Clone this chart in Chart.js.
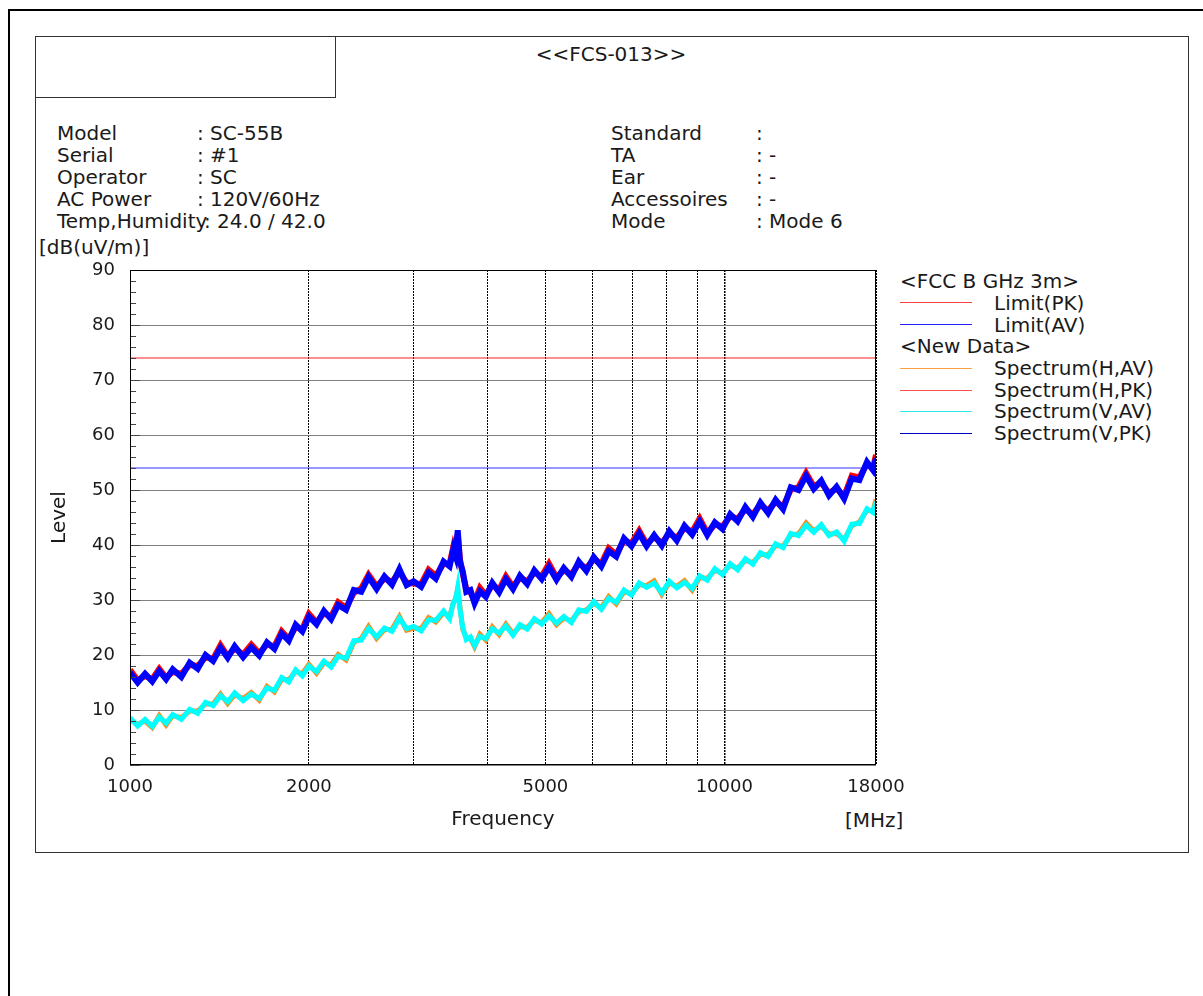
<!DOCTYPE html>
<html>
<head>
<meta charset="utf-8">
<script src="https://cdn.jsdelivr.net/npm/chart.js@4.4.1/dist/chart.umd.min.js"></script>
<style>
body { margin: 0; background: #fff; font-family: "DejaVu Sans", sans-serif; color: #1a1a1a; }
#page { position: relative; width: 1203px; height: 996px; overflow: hidden; }
.box { position: absolute; box-sizing: border-box; }
.t { position: absolute; font-size: 20px; line-height: 22px; white-space: nowrap; }
.lg { position: absolute; left: 900px; width: 72px; height: 1px; }
canvas { position: absolute; left: 0; top: 0; }
</style>
</head>
<body>
<div id="page">
  <div class="box" style="left:8px;top:9px;width:1300px;height:1100px;border-left:2px solid #000;border-top:2px solid #000;"></div>
  <div class="box" style="left:35px;top:36px;width:1154px;height:817px;border:1px solid #333;"></div>
  <div class="box" style="left:35px;top:36px;width:301px;height:62px;border:1px solid #333;"></div>

  <div class="t" style="left:0;width:1222px;text-align:center;top:43px;">&lt;&lt;FCS-013&gt;&gt;</div>

  <div class="t" style="left:57px;top:122px;">Model</div>
  <div class="t" style="left:57px;top:144px;">Serial</div>
  <div class="t" style="left:57px;top:166px;">Operator</div>
  <div class="t" style="left:57px;top:188px;">AC Power</div>
  <div class="t" style="left:57px;top:210px;">Temp,Humidity</div>
  <div class="t" style="left:197px;top:122px;">: SC-55B</div>
  <div class="t" style="left:197px;top:144px;">: #1</div>
  <div class="t" style="left:197px;top:166px;">: SC</div>
  <div class="t" style="left:197px;top:188px;">: 120V/60Hz</div>
  <div class="t" style="left:204px;top:210px;">: 24.0 / 42.0</div>

  <div class="t" style="left:611px;top:122px;">Standard</div>
  <div class="t" style="left:611px;top:144px;">TA</div>
  <div class="t" style="left:611px;top:166px;">Ear</div>
  <div class="t" style="left:611px;top:188px;">Accessoires</div>
  <div class="t" style="left:611px;top:210px;">Mode</div>
  <div class="t" style="left:756px;top:122px;">:</div>
  <div class="t" style="left:756px;top:144px;">: -</div>
  <div class="t" style="left:756px;top:166px;">: -</div>
  <div class="t" style="left:756px;top:188px;">: -</div>
  <div class="t" style="left:756px;top:210px;">: Mode 6</div>

  <div class="t" style="left:39px;top:236px;">[dB(uV/m)]</div>
  <div class="t" style="left:845px;top:809px;">[MHz]</div>

  <div class="t" style="left:900px;top:270px;">&lt;FCC B GHz 3m&gt;</div>
  <div class="lg" style="top:302px;background:#ff4040;"></div>
  <div class="t" style="left:994px;top:292px;">Limit(PK)</div>
  <div class="lg" style="top:324px;background:#2020ff;"></div>
  <div class="t" style="left:994px;top:314px;">Limit(AV)</div>
  <div class="t" style="left:900px;top:335px;">&lt;New Data&gt;</div>
  <div class="lg" style="top:368px;background:#ffa040;"></div>
  <div class="t" style="left:994px;top:357px;">Spectrum(H,AV)</div>
  <div class="lg" style="top:390px;background:#ff5050;"></div>
  <div class="t" style="left:994px;top:379px;">Spectrum(H,PK)</div>
  <div class="lg" style="top:411px;background:#30e8e8;"></div>
  <div class="t" style="left:994px;top:400px;">Spectrum(V,AV)</div>
  <div class="lg" style="top:433px;background:#0000c0;"></div>
  <div class="t" style="left:994px;top:422px;">Spectrum(V,PK)</div>

  <canvas id="emcChart" width="1203" height="996"></canvas>
</div>
<script>
// sweep frequencies [MHz]
const freqMHz = [1000, 1030, 1060, 1090, 1120, 1150, 1180, 1220, 1260, 1300,
    1340, 1380, 1420, 1460, 1500, 1550, 1600, 1650, 1700, 1750,
    1800, 1850, 1900, 1950, 2000, 2060, 2120, 2180, 2240, 2310,
    2380, 2450, 2520, 2600, 2680, 2760, 2840, 2920, 3000, 3090,
    3180, 3270, 3370, 3450, 3500, 3530, 3560, 3590, 3630, 3680,
    3740, 3800, 3880, 3970, 4070, 4180, 4290, 4410, 4530, 4660,
    4790, 4930, 5070, 5220, 5370, 5530, 5690, 5860, 6030, 6210,
    6390, 6580, 6780, 6980, 7190, 7400, 7620, 7850, 8080, 8320,
    8570, 8830, 9090, 9360, 9640, 9930, 10230, 10530, 10850, 11170,
    11500, 11850, 12200, 12560, 12940, 13330, 13730, 14140, 14560, 15000,
    15450, 15910, 16390, 16880, 17380, 17800, 18000];

// Spectrum(H,AV)
const hAv = [8.2, 7.4, 8.0, 6.8, 9.0, 7.3, 9.0, 8.6, 9.8, 9.8,
    11.1, 11.1, 12.9, 11.2, 12.8, 12.1, 13.2, 11.8, 14.3, 13.3,
    15.6, 15.5, 17.0, 16.6, 18.3, 16.7, 18.6, 18.2, 20.1, 19.1,
    22.3, 23.0, 25.2, 23.0, 24.6, 24.7, 27.0, 24.5, 24.9, 24.8,
    26.8, 26.0, 27.7, 27.0, 29.4, 30.3, 32.0, 28.8, 24.7, 23.1,
    23.0, 21.5, 23.8, 22.7, 25.1, 23.7, 25.6, 23.9, 25.2, 25.0,
    26.3, 25.9, 27.5, 25.5, 26.7, 26.2, 27.9, 28.2, 29.4, 28.6,
    30.6, 29.3, 31.5, 31.2, 32.8, 32.6, 33.5, 31.0, 33.1, 32.5,
    33.5, 31.8, 34.1, 33.9, 35.4, 34.9, 36.3, 35.8, 37.2, 36.8,
    38.3, 38.2, 39.9, 39.8, 41.8, 42.0, 44.0, 42.6, 43.4, 42.0,
    42.1, 41.0, 43.5, 44.2, 46.3, 46.2, 48.3];

// Spectrum(H,PK)
const hPk = [17.3, 15.4, 16.2, 15.6, 17.5, 15.9, 16.9, 16.6, 18.2, 18.0,
    19.6, 19.3, 21.8, 19.8, 21.2, 20.1, 21.9, 20.3, 21.9, 21.6,
    24.3, 22.9, 25.1, 24.8, 27.5, 25.9, 27.6, 27.0, 29.6, 28.6,
    31.3, 32.1, 34.6, 32.5, 33.9, 33.3, 35.1, 33.2, 33.0, 32.9,
    35.5, 34.4, 36.6, 36.6, 39.7, 38.4, 42.0, 37.5, 34.8, 32.0,
    31.4, 29.8, 32.2, 30.9, 32.7, 31.9, 34.3, 32.4, 34.0, 33.4,
    35.0, 34.3, 36.6, 34.1, 35.4, 34.7, 36.6, 35.8, 37.4, 36.6,
    39.4, 38.3, 40.8, 40.3, 42.6, 40.2, 41.4, 40.4, 42.1, 41.3,
    43.1, 42.4, 44.8, 42.2, 43.7, 43.4, 45.2, 44.8, 46.5, 45.6,
    47.3, 46.3, 47.8, 47.0, 50.1, 50.5, 53.1, 50.7, 51.3, 49.5,
    50.2, 48.9, 52.6, 52.3, 54.7, 54.1, 56.4];

// Spectrum(V,AV)
const vAv = [8.6, 7.1, 8.3, 7.0, 8.7, 7.6, 9.2, 8.3, 10.1, 9.4,
    11.4, 10.8, 12.6, 11.5, 13.1, 11.7, 12.9, 12.1, 14.0, 13.6,
    15.9, 15.1, 17.3, 16.2, 18.0, 17.0, 18.9, 17.8, 19.8, 19.4,
    22.6, 22.7, 24.8, 23.3, 24.9, 24.3, 26.7, 24.8, 25.2, 24.4,
    26.4, 26.3, 28.0, 26.6, 29.7, 30.0, 32.3, 28.4, 25.0, 22.8,
    23.3, 21.7, 23.4, 23.0, 24.8, 24.0, 25.3, 23.6, 25.5, 24.7,
    26.6, 25.6, 27.1, 25.8, 27.0, 25.9, 28.2, 27.9, 29.7, 28.3,
    30.3, 29.6, 31.8, 30.9, 33.1, 32.3, 33.1, 31.3, 33.4, 32.2,
    33.2, 32.1, 34.4, 33.6, 35.7, 34.6, 36.6, 35.5, 37.5, 36.5,
    38.6, 37.9, 40.2, 39.5, 42.1, 41.7, 43.6, 42.3, 43.7, 41.7,
    42.4, 40.7, 43.8, 43.9, 46.6, 45.9, 47.9];

// Spectrum(V,PK)
const vPk = [16.8, 15.0, 16.6, 15.2, 17.1, 15.6, 17.4, 16.0, 18.6, 17.5,
    20.0, 18.9, 21.3, 19.5, 21.6, 19.6, 21.4, 19.9, 22.3, 21.1,
    23.9, 22.6, 25.5, 24.3, 27.0, 25.6, 28.0, 26.5, 29.1, 28.2,
    31.8, 31.5, 34.2, 32.0, 34.3, 32.8, 35.6, 32.7, 33.4, 32.4,
    35.0, 33.9, 37.0, 36.1, 39.2, 38.0, 42.7, 37.0, 35.2, 31.5,
    31.8, 29.4, 31.6, 30.6, 33.1, 31.4, 33.8, 32.0, 34.4, 32.9,
    35.4, 33.8, 36.0, 33.7, 35.8, 34.2, 37.0, 35.3, 37.8, 36.1,
    38.9, 37.9, 41.2, 39.8, 42.1, 39.8, 41.8, 39.9, 42.5, 40.8,
    43.5, 41.9, 44.3, 41.8, 44.1, 42.9, 45.6, 44.3, 46.9, 45.1,
    47.7, 45.8, 48.2, 46.5, 50.5, 50.0, 52.6, 50.2, 51.7, 49.0,
    50.6, 48.4, 52.1, 51.8, 55.1, 53.6, 55.8];

// FCC B GHz 3m limits
const limitFreq = [1000, 18000];
const limitPk = [74, 74];
const limitAv = [54, 54];

const xGridTicks = [1000, 2000, 3000, 4000, 5000, 6000, 7000, 8000, 9000, 10000, 18000];
const xLabelTicks = [1000, 2000, 5000, 10000, 18000];
const yMin = 0, yMax = 90, yStep = 10, yMinorStep = 2;

const FONT = 'DejaVu Sans';

function toPoints(xs, ys) {
    return xs.map((x, i) => ({ x: x, y: ys[i] }));
}

function trace(label, xs, ys, color, order, width) {
    return {
        label: label,
        data: toPoints(xs, ys),
        borderColor: color,
        borderWidth: width,
        borderJoinStyle: 'miter',
        pointRadius: 0,
        tension: 0,
        fill: false,
        order: order
    };
}

// chart frame + little minor ticks on the left edge
const framePlugin = {
    id: 'frame',
    afterDraw(chart) {
        const { ctx, chartArea: a, scales: { y } } = chart;
        ctx.save();
        ctx.strokeStyle = '#444';
        ctx.lineWidth = 1;
        for (let v = yMin; v <= yMax; v += yMinorStep) {
            const py = Math.round(y.getPixelForValue(v)) + 0.5;
            const len = v % yStep === 0 ? 10 : 6;
            ctx.beginPath();
            ctx.moveTo(a.left, py);
            ctx.lineTo(a.left + len, py);
            ctx.stroke();
        }
        ctx.strokeStyle = '#000';
        ctx.strokeRect(a.left + 0.5, a.top + 0.5, a.right - a.left - 1, a.bottom - a.top - 1);
        ctx.restore();
    }
};

new Chart(document.getElementById('emcChart'), {
    type: 'line',
    data: {
        datasets: [
            trace('Limit(PK)', limitFreq, limitPk, '#ff2020', 6, 1),
            trace('Limit(AV)', limitFreq, limitAv, '#3030ff', 5, 1),
            trace('Spectrum(H,AV)', freqMHz, hAv, '#ff8c1a', 4, 5),
            trace('Spectrum(V,AV)', freqMHz, vAv, '#00ffff', 3, 5),
            trace('Spectrum(H,PK)', freqMHz, hPk, '#ff0000', 2, 6),
            trace('Spectrum(V,PK)', freqMHz, vPk, '#0000ff', 1, 6)
        ]
    },
    options: {
        responsive: false,
        animation: false,
        layout: { padding: { left: 0, top: 270, right: 327, bottom: 161 } },
        plugins: {
            legend: { display: false },
            tooltip: { enabled: false }
        },
        scales: {
            x: {
                type: 'logarithmic',
                min: 1000,
                max: 18000,
                afterBuildTicks: scale => {
                    scale.ticks = xGridTicks.map(v => ({ value: v }));
                },
                afterFit: scale => { scale.height = 70; },
                ticks: {
                    autoSkip: false,
                    maxRotation: 0,
                    padding: 12,
                    color: '#1a1a1a',
                    font: { family: FONT, size: 18 },
                    callback: v => xLabelTicks.includes(v) ? String(v) : ''
                },
                grid: {
                    color: '#000',
                    lineWidth: ctx => (ctx.tick && ctx.tick.value === 10000) ? 1.5 : 1,
                    drawTicks: false
                },
                border: { display: false, dash: [2, 1] },
                title: {
                    display: true,
                    text: 'Frequency',
                    color: '#1a1a1a',
                    font: { family: FONT, size: 20 },
                    padding: { top: 0, bottom: 3 }
                }
            },
            y: {
                min: yMin,
                max: yMax,
                afterFit: scale => { scale.width = 130; },
                ticks: {
                    stepSize: yStep,
                    padding: 15,
                    color: '#1a1a1a',
                    font: { family: FONT, size: 18 }
                },
                grid: { color: '#808080', lineWidth: 1, drawTicks: false },
                border: { display: false },
                title: {
                    display: true,
                    text: 'Level',
                    color: '#1a1a1a',
                    font: { family: FONT, size: 20 },
                    padding: { top: 48, bottom: 0 }
                }
            }
        }
    },
    plugins: [framePlugin]
});
</script>
</body>
</html>
